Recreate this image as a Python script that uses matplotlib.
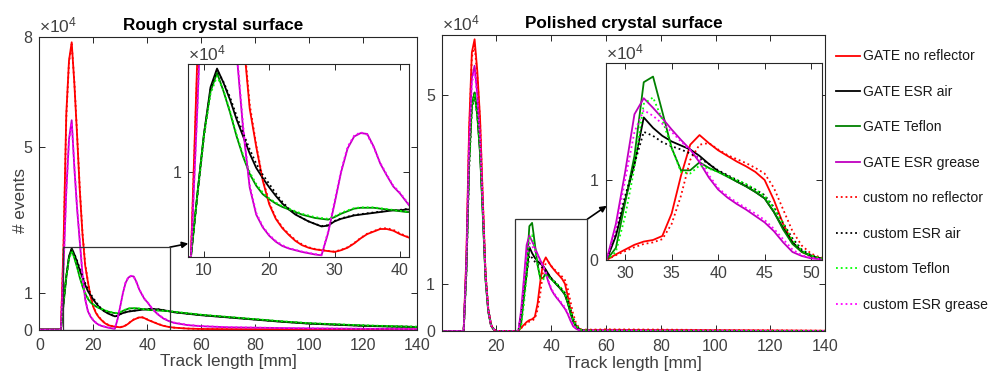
"""
Track-length distributions for rough and polished crystal surfaces,
GATE reference vs. custom simulation, with zoomed insets.
"""

import matplotlib.pyplot as plt
from matplotlib.patches import Rectangle

plt.rcParams['font.family'] = ['Liberation Sans', 'DejaVu Sans']
plt.rcParams['mathtext.fontset'] = 'custom'
plt.rcParams['mathtext.rm'] = 'Liberation Sans'
plt.rcParams['mathtext.it'] = 'Liberation Sans:italic'

AX_COLOR = '#262626'
TXT_COLOR = '#404040'
TICK_FS = 11.5

# ---- data (events in units of 1e4) ----
labels = ['GATE no reflector', 'GATE ESR air', 'GATE Teflon', 'GATE ESR grease',
          'custom no reflector', 'custom ESR air', 'custom Teflon', 'custom ESR grease']
colors = ['#ff0000', '#000000', '#008000', '#bf00bf',
          '#ff0000', '#000000', '#00ff00', '#ff00ff']
styles = ['-', '-', '-', '-', ':', ':', ':', ':']

# rough surface
x_rough = [0] + list(range(8, 43)) + [44, 46, 48, 50, 55, 60, 70, 80, 90, 100, 110, 120, 130, 140]
rough_gate_none = [0, 0, 2.4, 5.9, 7.35, 7.85, 6.7, 5.3, 3.8, 2.6, 1.75, 1.3, 0.9, 0.62, 0.45, 0.34,
                   0.26, 0.19, 0.14, 0.11, 0.09, 0.08, 0.07, 0.06, 0.08, 0.11, 0.16, 0.22, 0.27, 0.3,
                   0.33, 0.33, 0.31, 0.27, 0.24, 0.21,
                   0.15, 0.1, 0.07, 0.05, 0.025, 0.015, 0.008, 0.005, 0.003, 0.002, 0.001, 0.001, 0, 0]
rough_gate_air = [0, 0, 0.75, 1.45, 2.0, 2.22, 2.05, 1.85, 1.62, 1.42, 1.22, 1.05, 0.93, 0.82, 0.72,
                  0.63, 0.56, 0.5, 0.46, 0.42, 0.39, 0.36, 0.37, 0.42, 0.45, 0.47, 0.49, 0.5, 0.51,
                  0.52, 0.53, 0.54, 0.55, 0.55, 0.56, 0.56,
                  0.55, 0.53, 0.5, 0.47, 0.43, 0.39, 0.33, 0.27, 0.21, 0.16, 0.13, 0.1, 0.08, 0.07]
rough_gate_teflon = [0, 0, 0.75, 1.45, 1.95, 2.17, 1.95, 1.7, 1.42, 1.18, 0.98, 0.84, 0.74, 0.68,
                     0.63, 0.59, 0.56, 0.53, 0.5, 0.48, 0.46, 0.45, 0.44, 0.47, 0.51, 0.54, 0.57,
                     0.58, 0.58, 0.58, 0.57, 0.56, 0.55, 0.54, 0.53, 0.53,
                     0.52, 0.51, 0.5, 0.48, 0.44, 0.4, 0.34, 0.28, 0.22, 0.17, 0.14, 0.11, 0.09, 0.07]
rough_gate_grease = [0, 0, 1.8, 3.8, 5.2, 5.72, 4.4, 3.3, 2.4, 1.5, 0.82, 0.5, 0.35, 0.25, 0.18,
                     0.13, 0.1, 0.08, 0.06, 0.045, 0.03, 0.02, 0.28, 0.63, 1.0, 1.28, 1.42, 1.46,
                     1.45, 1.3, 1.1, 0.96, 0.83, 0.75, 0.65, 0.55,
                     0.41, 0.3, 0.23, 0.18, 0.12, 0.09, 0.06, 0.05, 0.04, 0.03, 0.025, 0.02, 0.015, 0.01]
rough_cust_none = [0, 0, 2.3, 5.8, 7.3, 7.8, 6.75, 5.35, 3.85, 2.65, 1.8, 1.32, 0.92, 0.64, 0.46,
                   0.35, 0.27, 0.2, 0.15, 0.115, 0.095, 0.082, 0.072, 0.064, 0.085, 0.115, 0.165,
                   0.225, 0.275, 0.305, 0.335, 0.34, 0.32, 0.28, 0.245, 0.215,
                   0.155, 0.105, 0.072, 0.052, 0.026, 0.016, 0.008, 0.005, 0.003, 0.002, 0.001, 0.001, 0, 0]
rough_cust_air = [0, 0, 0.72, 1.42, 1.97, 2.2, 2.06, 1.88, 1.66, 1.46, 1.27, 1.1, 0.97, 0.86, 0.75,
                  0.65, 0.57, 0.51, 0.46, 0.42, 0.39, 0.365, 0.375, 0.425, 0.455, 0.475, 0.495,
                  0.505, 0.515, 0.525, 0.535, 0.545, 0.555, 0.555, 0.565, 0.565,
                  0.555, 0.535, 0.505, 0.475, 0.435, 0.395, 0.335, 0.275, 0.215, 0.165, 0.135, 0.105,
                  0.085, 0.075]
rough_cust_teflon = [0, 0, 0.73, 1.43, 1.92, 2.13, 1.96, 1.72, 1.44, 1.2, 1.0, 0.86, 0.76, 0.69,
                     0.64, 0.6, 0.57, 0.54, 0.51, 0.49, 0.47, 0.46, 0.45, 0.48, 0.52, 0.55, 0.575,
                     0.585, 0.585, 0.585, 0.575, 0.565, 0.555, 0.545, 0.535, 0.53,
                     0.525, 0.515, 0.505, 0.485, 0.445, 0.405, 0.345, 0.285, 0.225, 0.175, 0.145,
                     0.115, 0.095, 0.075]
rough_cust_grease = [0, 0, 1.75, 3.75, 5.15, 5.65, 4.45, 3.35, 2.45, 1.55, 0.85, 0.52, 0.36, 0.26,
                     0.19, 0.14, 0.105, 0.085, 0.065, 0.05, 0.035, 0.025, 0.3, 0.66, 1.02, 1.3, 1.43,
                     1.47, 1.44, 1.29, 1.11, 0.97, 0.84, 0.76, 0.66, 0.56,
                     0.42, 0.31, 0.24, 0.19, 0.13, 0.095, 0.065, 0.052, 0.042, 0.032, 0.026, 0.021,
                     0.016, 0.011]

# polished surface
x_pol = [0] + list(range(8, 21)) + [27] + list(range(28, 52)) + [55, 60, 80, 100, 120, 140]
pol_gate_none = [0, 0, 1.6, 4.3, 5.9, 6.18, 5.5, 4.5, 2.8, 1.2, 0.45, 0.12, 0.03, 0, 0,
                 0, 0.07, 0.13, 0.19, 0.23, 0.25, 0.3, 0.58, 1.05, 1.44, 1.56, 1.46, 1.37, 1.3, 1.23,
                 1.17, 1.1, 1.0, 0.75, 0.45, 0.22, 0.1, 0.05, 0.02,
                 0.02, 0.025, 0.02, 0.015, 0.01, 0.005]
pol_gate_air = [0, 0, 1.3, 3.6, 4.8, 5.05, 4.6, 3.8, 2.5, 1.1, 0.42, 0.12, 0.03, 0, 0,
                0, 0.3, 0.75, 1.2, 1.78, 1.65, 1.55, 1.48, 1.43, 1.38, 1.3, 1.2, 1.11, 1.05, 0.98,
                0.92, 0.85, 0.77, 0.6, 0.4, 0.22, 0.11, 0.05, 0.02,
                0.005, 0.005, 0.004, 0.003, 0.002, 0.001]
pol_gate_teflon = [0, 0, 1.3, 3.6, 4.8, 5.05, 4.55, 3.75, 2.45, 1.08, 0.4, 0.11, 0.03, 0, 0,
                   0, 0.15, 0.72, 1.3, 2.22, 2.29, 1.85, 1.4, 1.12, 1.12, 1.22, 1.15, 1.1, 1.04, 0.98,
                   0.92, 0.85, 0.77, 0.6, 0.38, 0.2, 0.1, 0.05, 0.02,
                   0.005, 0.005, 0.004, 0.003, 0.002, 0.001]
pol_gate_grease = [0, 0, 1.45, 4.0, 5.35, 5.62, 5.0, 4.1, 2.65, 1.15, 0.43, 0.12, 0.03, 0, 0,
                   0, 0.45, 1.1, 1.82, 2.02, 1.9, 1.77, 1.63, 1.5, 1.38, 1.22, 1.03, 0.88, 0.78, 0.7,
                   0.63, 0.55, 0.47, 0.36, 0.22, 0.1, 0.05, 0.02, 0.01,
                   0.01, 0.01, 0.008, 0.005, 0.003, 0.002]
pol_cust_none = [0, 0, 1.5, 4.2, 5.8, 6.05, 5.4, 4.45, 2.8, 1.25, 0.48, 0.14, 0.04, 0, 0,
                 0, 0.06, 0.11, 0.16, 0.2, 0.22, 0.26, 0.45, 0.8, 1.25, 1.44, 1.46, 1.38, 1.31, 1.26,
                 1.21, 1.15, 1.08, 0.9, 0.63, 0.36, 0.18, 0.08, 0.03,
                 0.03, 0.035, 0.03, 0.02, 0.015, 0.008]
pol_cust_air = [0, 0, 1.2, 3.4, 4.7, 4.95, 4.6, 3.85, 2.6, 1.2, 0.47, 0.14, 0.04, 0, 0,
                0, 0.35, 0.8, 1.2, 1.6, 1.55, 1.47, 1.42, 1.38, 1.33, 1.27, 1.2, 1.12, 1.06, 1.0,
                0.94, 0.88, 0.81, 0.66, 0.46, 0.27, 0.13, 0.06, 0.02,
                0.005, 0.005, 0.004, 0.003, 0.002, 0.001]
pol_cust_teflon = [0, 0, 1.25, 3.5, 4.75, 5.0, 4.55, 3.8, 2.55, 1.15, 0.45, 0.13, 0.04, 0, 0,
                   0, 0.1, 0.55, 1.15, 1.95, 2.03, 1.75, 1.4, 1.1, 1.08, 1.18, 1.14, 1.1, 1.05, 1.0,
                   0.95, 0.88, 0.8, 0.65, 0.45, 0.25, 0.12, 0.06, 0.02,
                   0.005, 0.005, 0.004, 0.003, 0.002, 0.001]
pol_cust_grease = [0, 0, 1.4, 3.9, 5.25, 5.5, 4.95, 4.1, 2.7, 1.2, 0.46, 0.13, 0.04, 0, 0,
                   0, 0.4, 1.0, 1.6, 1.87, 1.8, 1.7, 1.6, 1.48, 1.37, 1.25, 1.06, 0.9, 0.8, 0.72,
                   0.65, 0.58, 0.5, 0.39, 0.26, 0.13, 0.06, 0.03, 0.01,
                   0.015, 0.015, 0.012, 0.008, 0.005, 0.003]

rough_series = [rough_gate_none, rough_gate_air, rough_gate_teflon, rough_gate_grease,
                rough_cust_none, rough_cust_air, rough_cust_teflon, rough_cust_grease]
pol_series = [pol_gate_none, pol_gate_air, pol_gate_teflon, pol_gate_grease,
              pol_cust_none, pol_cust_air, pol_cust_teflon, pol_cust_grease]


def style_axes(ax, fontsize=TICK_FS, xpad=4):
    for s in ax.spines.values():
        s.set_color(AX_COLOR)
        s.set_linewidth(0.8)
    ax.tick_params(direction='in', top=True, right=True, length=4, width=0.7,
                   colors=AX_COLOR, labelcolor=TXT_COLOR, labelsize=fontsize)
    ax.tick_params(axis='y', pad=5)
    ax.tick_params(axis='x', pad=xpad)


def plot_curves(ax, x, series):
    handles = []
    for y, c, ls, lab in zip(series, colors, styles, labels):
        h, = ax.plot(x, y, color=c, linestyle=ls, linewidth=1.3, label=lab)
        handles.append(h)
    return handles


def exp_label(ax, y=1.004):
    ax.text(0.0, y, r'$\times10^4$', transform=ax.transAxes, ha='left', va='bottom',
            fontsize=12.5, color=TXT_COLOR)


fig = plt.figure(figsize=(9.88, 3.72), dpi=100)

# ---- rough panel ----
ax1 = fig.add_axes([0.0398, 0.1142, 0.3823, 0.787])
plot_curves(ax1, x_rough, rough_series)
ax1.set_xlim(0, 140)
ax1.set_ylim(0, 8)
ax1.set_xticks(range(0, 141, 20))
ax1.set_yticks([0, 1, 5, 8])
ax1.set_yticklabels(['0', '1', '5', '8'])
style_axes(ax1, xpad=6)
exp_label(ax1)
ax1.set_title('Rough crystal surface', fontweight='bold', fontsize=12.3, x=0.46, pad=5)
ax1.set_xlabel('Track length [mm]', fontsize=12.3, color=TXT_COLOR, labelpad=1)
ax1.set_ylabel('# events', fontsize=12.3, color=TXT_COLOR)
ax1.yaxis.set_label_coords(-0.03, 0.44)
ax1.add_patch(Rectangle((8.7, 0), 48.4 - 8.7, 2.25, fill=False, ec='#333333', lw=0.9, zorder=5))

in1 = fig.add_axes([0.1906, 0.3091, 0.2237, 0.518])
plot_curves(in1, x_rough, rough_series)
in1.set_xlim(7.6, 41.45)
in1.set_ylim(0, 2.27)
in1.set_xticks([10, 20, 30, 40])
in1.set_yticks([1])
style_axes(in1)
exp_label(in1)
ax1.annotate('', xy=(0.0, 0.07), xycoords=in1.transAxes, xytext=(48.4, 2.25),
             textcoords='data', annotation_clip=False,
             arrowprops=dict(arrowstyle='-|>', color='k', lw=1.2, mutation_scale=9,
                             shrinkA=0, shrinkB=0))

# ---- polished panel ----
ax2 = fig.add_axes([0.4471, 0.1102, 0.388, 0.7957])
handles = plot_curves(ax2, x_pol, pol_series)
ax2.set_xlim(0, 140)
ax2.set_ylim(0, 6.27)
ax2.set_xticks(range(20, 141, 20))
ax2.set_yticks([0, 1, 5])
ax2.set_yticklabels(['0', '1', '5'])
style_axes(ax2, xpad=6)
exp_label(ax2)
ax2.set_title('Polished crystal surface', fontweight='bold', fontsize=12.3, x=0.476, pad=5)
ax2.set_xlabel('Track length [mm]', fontsize=12.3, color=TXT_COLOR, labelpad=1)
ax2.add_patch(Rectangle((26.8, 0), 53.2 - 26.8, 2.37, fill=False, ec='#333333', lw=0.9, zorder=5))

in2 = fig.add_axes([0.613, 0.3011, 0.2192, 0.5296])
plot_curves(in2, x_pol, pol_series)
in2.set_xlim(27.9, 51.2)
in2.set_ylim(0, 2.46)
in2.set_xticks([30, 35, 40, 45, 50])
in2.set_yticks([0, 1])
style_axes(in2)
exp_label(in2)
ax2.annotate('', xy=(0.005, 0.275), xycoords=in2.transAxes, xytext=(53.2, 2.37),
             textcoords='data', annotation_clip=False,
             arrowprops=dict(arrowstyle='-|>', color='k', lw=1.2, mutation_scale=9,
                             shrinkA=0, shrinkB=0))

# ---- legend ----
leg = fig.legend(handles, labels, loc='upper left', bbox_to_anchor=(0.846, 0.867),
                 frameon=False, fontsize=10.1, handlelength=1.72, handletextpad=0.2,
                 labelspacing=1.53, borderpad=0, borderaxespad=0)
for t in leg.get_texts():
    t.set_color('#1a1a1a')

fig.savefig('out.png', dpi=100)
